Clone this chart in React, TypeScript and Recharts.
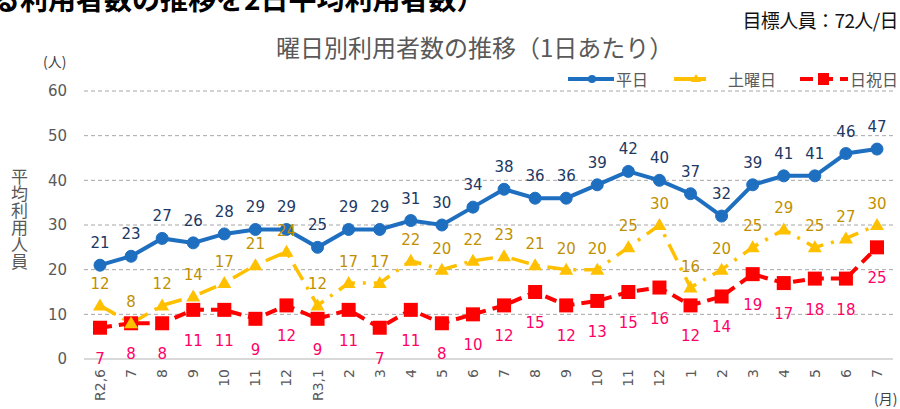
import { LineChart, Line, XAxis, YAxis, CartesianGrid, LabelList } from "recharts";

const months = ["R2,6", "7", "8", "9", "10", "11", "12", "R3,1", "2", "3", "4", "5", "6", "7", "8", "9", "10", "11", "12", "1", "2", "3", "4", "5", "6", "7"];
const weekday = [21, 23, 27, 26, 28, 29, 29, 25, 29, 29, 31, 30, 34, 38, 36, 36, 39, 42, 40, 37, 32, 39, 41, 41, 46, 47];
const saturday = [12, 8, 12, 14, 17, 21, 24, 12, 17, 17, 22, 20, 22, 23, 21, 20, 20, 25, 30, 16, 20, 25, 29, 25, 27, 30];
const holiday = [7, 8, 8, 11, 11, 9, 12, 9, 11, 7, 11, 8, 10, 12, 15, 12, 13, 15, 16, 12, 14, 19, 17, 18, 18, 25];
const yTicks = [0, 10, 20, 30, 40, 50, 60];

const data = months.map((m, i) => ({
  month: m,
  weekday: weekday[i],
  saturday: saturday[i],
  holiday: holiday[i],
}));

const BLUE = "#1f6fc1";
const YELLOW = "#ffc000";
const RED = "#ff0000";
const FONT = "'DejaVu Sans', 'Noto Sans CJK JP', sans-serif";
const JP = "'Noto Sans CJK JP', sans-serif";

const makeLabel = (color: string, dy: number) => (props: any) => {
  const { x, y, value } = props;
  return (
    <text x={x} y={y + dy} fill={color} fontSize={15} fontFamily={FONT} textAnchor="middle" dominantBaseline="central">
      {value}
    </text>
  );
};

const Triangle = (props: any) => {
  const { cx, cy } = props;
  if (cx == null || cy == null) return null;
  return <polygon points={`${cx},${cy - 7} ${cx + 7},${cy + 5} ${cx - 7},${cy + 5}`} fill={YELLOW} />;
};

const Square = (props: any) => {
  const { cx, cy } = props;
  if (cx == null || cy == null) return null;
  return <rect x={cx - 7} y={cy - 7} width={14} height={14} fill={RED} />;
};

const MonthTick = (props: any) => {
  const { x, payload } = props;
  const y = 369;
  return (
    <text x={x} y={y} transform={`rotate(-90 ${x} ${y})`} textAnchor="end" dominantBaseline="central" fill="#595959" fontSize={14} fontFamily={FONT}>
      {payload.value}
    </text>
  );
};

function LegendBox() {
  return (
    <div style={{ position: "absolute", top: 67, left: 566, display: "flex", alignItems: "center", fontFamily: JP, fontSize: 16, color: "#595959", whiteSpace: "nowrap" }}>
      <svg width={50} height={20}>
        <line x1={2} y1={10} x2={48} y2={10} stroke={BLUE} strokeWidth={4} />
        <circle cx={26} cy={10} r={4} fill={BLUE} />
      </svg>
      <span style={{ marginRight: 24 }}>平日</span>
      <svg width={36} height={20}>
        <line x1={2} y1={10} x2={34} y2={10} stroke={YELLOW} strokeWidth={4} />
        <polygon points="24,5 29,13 19,13" fill={YELLOW} />
      </svg>
      <span style={{ marginLeft: 20, marginRight: 22 }}>土曜日</span>
      <svg width={52} height={20}>
        <line x1={2} y1={10} x2={50} y2={10} stroke={RED} strokeWidth={4} strokeDasharray="13 7" />
        <rect x={20} y={4} width={11} height={12} fill={RED} />
      </svg>
      <span>日祝日</span>
    </div>
  );
}

export default function App() {
  return (
    <div style={{ position: "fixed", left: 0, top: 0, width: 900, height: 409, overflow: "hidden", background: "#fff" }}>
      <div style={{ position: "absolute", top: -22, left: -8, fontFamily: JP, fontWeight: 700, fontSize: 28, color: "#000", whiteSpace: "nowrap" }}>
        る利用者数の推移を2日平均利用者数）
      </div>
      <div style={{ position: "absolute", top: 6, right: 2, fontFamily: JP, fontSize: 19, color: "#111", whiteSpace: "nowrap", letterSpacing: -0.6 }}>
        目標人員：72人/日
      </div>
      <div style={{ position: "absolute", top: 29, left: 276, fontFamily: JP, fontSize: 24, color: "#595959", whiteSpace: "nowrap" }}>
        曜日別利用者数の推移（1日あたり）
      </div>
      <div style={{ position: "absolute", top: 51, left: 43, fontFamily: JP, fontSize: 14, color: "#404040" }}>(人)</div>
      <div style={{ position: "absolute", top: 168, left: 11, fontFamily: JP, fontSize: 17, color: "#595959", writingMode: "vertical-rl", lineHeight: 1 }}>
        平均利用人員
      </div>
      <div style={{ position: "absolute", top: 388, left: 874, fontFamily: JP, fontSize: 14, color: "#404040", whiteSpace: "nowrap" }}>(月)</div>
      <LegendBox />
      <div style={{ position: "absolute", left: 0, top: 0 }}>
        <LineChart width={900} height={409} data={data} margin={{ top: 91, right: 7, bottom: 0, left: 44 }}>
          <CartesianGrid vertical={false} stroke="#a6a6a6" strokeDasharray="4 3" />
          <XAxis
            dataKey="month"
            interval={0}
            height={50}
            padding={{ left: 16, right: 16 }}
            tickLine={false}
            axisLine={{ stroke: "#d9d9d9", strokeWidth: 2 }}
            tick={<MonthTick />}
          />
          <YAxis
            domain={[0, 60]}
            ticks={yTicks}
            width={40}
            axisLine={false}
            tickLine={false}
            tickMargin={11}
            tick={{ fill: "#595959", fontSize: 15, fontFamily: FONT }}
          />
          <Line
            dataKey="holiday"
            stroke={RED}
            strokeWidth={4}
            strokeDasharray="12 7"
            dot={<Square />}
            isAnimationActive={false}
          >
            <LabelList dataKey="holiday" content={makeLabel("#ff0066", 31)} />
          </Line>
          <Line
            dataKey="saturday"
            stroke={YELLOW}
            strokeWidth={3.5}
            strokeDasharray="18 8 3 8"
            dot={<Triangle />}
            isAnimationActive={false}
          >
            <LabelList dataKey="saturday" content={makeLabel("#bf9000", -21)} />
          </Line>
          <Line
            dataKey="weekday"
            stroke={BLUE}
            strokeWidth={4}
            dot={{ r: 6, fill: BLUE, stroke: BLUE, strokeWidth: 1 }}
            isAnimationActive={false}
          >
            <LabelList dataKey="weekday" content={makeLabel("#203864", -22)} />
          </Line>
        </LineChart>
      </div>
    </div>
  );
}
